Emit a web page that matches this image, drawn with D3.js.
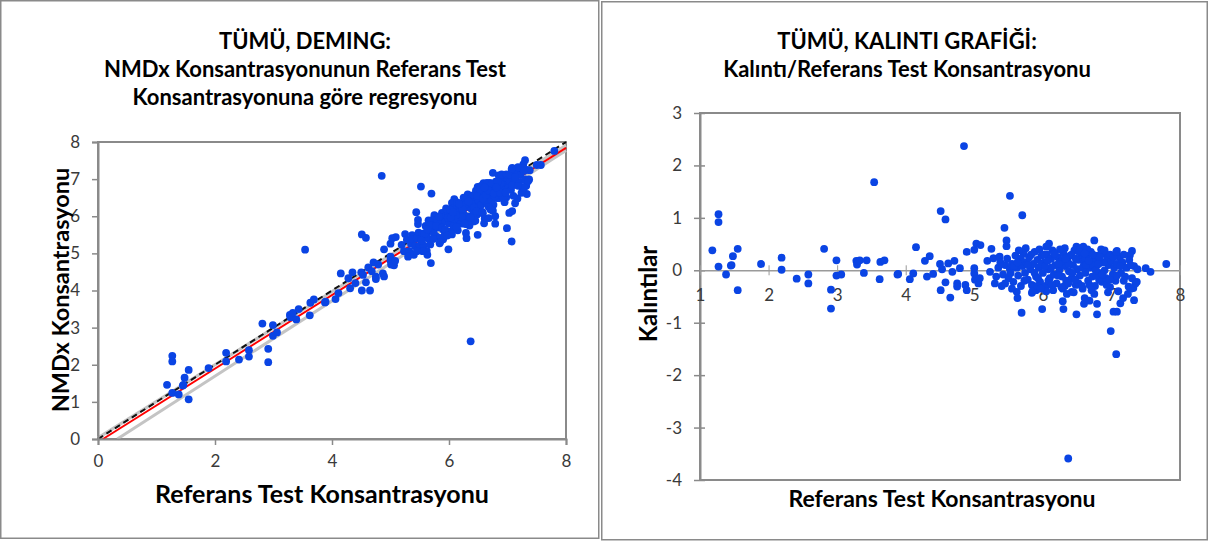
<!DOCTYPE html>
<html>
<head>
<meta charset="utf-8">
<script src="https://cdn.jsdelivr.net/npm/d3@7"></script>
<style>
  html, body { margin: 0; padding: 0; background: #ffffff; }
  svg { display: block; }
  text { font-family: Lato, "Open Sans", "Noto Sans", sans-serif; }
</style>
</head>
<body>
<svg id="chart" width="1209" height="542"></svg>
<script>
// ---------------- DATA ----------------
// Reference test concentration (x, shared by both panels)
const refConc = [
  1.18,1.27,1.27,1.27,1.38,1.45,1.46,1.48,1.55,1.55,1.89,2.19,2.19,2.41,2.58,2.58,2.81,2.91,2.91,2.99,
  2.99,3.06,3.28,3.29,3.33,3.43,3.39,3.54,3.62,3.63,3.69,3.88,3.89,4.06,4.11,4.15,4.28,4.35,4.31,4.40,
  4.51,4.58,4.50,4.53,4.62,4.71,4.68,4.79,4.89,5.00,5.03,5.09,5.25,4.58,4.51,4.65,4.75,4.75,4.87,4.89,
  5.00,5.00,5.01,5.06,5.08,5.19,5.28,5.37,5.23,5.32,5.30,5.40,5.62,5.63,4.85,5.52,5.70,5.44,5.47,5.47,
  5.69,5.99,6.29,6.29,6.30,6.42,6.49,6.61,6.60,6.68,6.79,6.79,7.03,7.08,6.99,7.07,6.37,7.13,7.17,7.33,
  7.25,7.32,7.37,5.84,5.90,6.75,7.30,7.27,7.80,7.50,7.57,7.08,7.08,6.09,6.05,6.32,6.49,6.59,5.75,
  5.35,5.38,5.42,5.45,5.48,5.50,5.52,5.55,5.57,5.60,5.62,5.64,5.66,5.68,5.70,5.72,5.74,5.76,5.78,5.80,
  5.82,5.84,5.86,5.88,5.90,5.92,5.94,5.96,5.98,6.00,6.02,6.04,6.06,6.08,6.10,6.12,6.14,6.16,6.18,6.20,
  6.22,6.24,6.26,6.28,6.30,6.32,6.34,6.36,6.38,6.40,6.42,6.44,6.46,6.48,6.50,6.52,6.54,6.56,6.58,6.60,
  6.62,6.64,6.66,6.68,6.70,6.72,6.74,6.76,6.78,6.80,6.82,6.84,6.86,6.88,6.90,6.92,6.94,6.96,6.98,7.00,
  7.02,7.04,7.06,7.08,7.10,7.12,7.14,7.16,7.20,7.22,7.24,7.26,7.30,7.33,7.35,7.38,
  6.25,6.55,6.85,6.15,6.45,6.75,6.95,5.95,6.05,6.35,6.65,6.90,7.18,7.28,5.55,5.45,5.65,5.85,
  6.62,6.72,6.82,6.52,6.42,6.32,6.22,6.12,6.02,5.92,
  5.58,5.68,5.78,5.88,5.98,6.08,6.18,6.28,6.38,6.48,6.58,6.68,6.78,6.88,6.98,7.08,7.18,7.28,
  6.13,6.23,6.33,6.43,6.53,6.63,6.73,6.83,6.93,7.03,7.13,6.03,5.93,5.83,5.73,5.63,5.53,
  6.47,6.57,6.67,6.77,6.87,6.97,7.07,6.37,6.27,6.17,6.07,5.97,6.61,6.71,6.81
];

// NMDx concentration (left panel y)
const nmdxConc = [
  1.46,2.24,2.09,1.24,1.20,1.44,1.46,1.65,1.86,1.07,1.91,2.32,2.09,2.14,2.39,2.22,3.11,2.43,2.07,3.07,
  2.78,2.87,3.34,3.28,3.40,3.50,3.22,5.10,3.33,3.67,3.76,3.68,3.70,3.77,3.93,4.46,4.33,4.49,4.06,4.20,
  5.51,5.42,4.49,4.42,4.62,4.76,4.52,4.70,5.11,5.26,5.41,5.44,5.52,4.22,4.00,4.00,4.37,4.31,4.46,4.38,
  4.91,4.81,4.70,4.68,4.80,5.23,5.37,5.49,5.06,5.06,4.91,4.96,5.07,4.96,7.09,6.80,6.61,6.11,5.90,5.79,
  4.74,5.11,5.79,5.55,5.41,5.86,5.50,5.93,5.81,5.95,6.00,5.80,6.09,6.14,5.68,5.32,2.63,6.35,6.48,6.60,
  6.78,6.82,6.99,5.27,5.38,7.17,7.51,7.40,7.76,7.38,7.38,7.30,7.22,6.46,6.36,6.59,6.79,6.89,6.03,
  5.26,5.39,5.20,5.41,5.56,5.21,5.40,5.53,5.21,5.74,5.53,5.40,5.70,5.24,5.64,5.90,5.55,5.77,5.46,5.91,
  5.70,5.42,5.84,6.09,5.64,5.98,5.85,5.60,6.12,5.81,6.03,5.60,6.22,5.96,5.81,6.20,6.37,5.93,6.13,5.80,
  6.32,6.09,6.26,6.01,6.47,6.25,5.99,6.39,6.21,6.53,6.12,6.39,6.69,6.05,6.37,6.57,6.29,6.71,6.08,6.57,
  6.42,6.74,6.31,6.58,6.90,6.45,6.77,6.31,6.71,6.93,6.62,6.84,6.49,7.05,6.75,6.62,7.01,6.91,6.51,7.03,
  6.79,6.94,6.71,7.05,6.55,7.21,6.93,7.15,6.92,7.11,6.63,7.30,6.99,7.25,6.94,7.24,
  6.50,6.82,7.10,5.62,5.88,6.15,6.38,6.21,5.51,5.75,6.90,7.13,7.32,6.77,5.06,5.06,5.89,5.31,
  6.69,6.67,6.49,6.12,6.57,5.87,5.97,6.03,6.18,5.48,
  5.52,5.76,5.74,5.69,5.96,5.74,6.31,6.31,6.35,6.55,6.48,6.25,6.53,6.88,7.13,6.83,6.82,7.22,
  5.71,6.20,6.40,6.23,6.73,6.58,6.88,6.93,6.50,7.13,7.06,5.97,5.64,5.99,5.39,5.64,5.34,
  6.14,6.12,6.70,6.62,6.64,6.64,7.27,5.97,5.80,6.34,6.11,5.48,6.78,6.18,6.78
];

// Residuals (right panel y)
const residuals = [
  0.38,1.07,0.92,0.07,-0.08,0.09,0.10,0.27,0.41,-0.38,0.12,0.24,0.01,-0.16,-0.08,-0.25,0.41,-0.37,-0.73,0.19,
  -0.10,-0.08,0.18,0.11,0.19,0.19,-0.05,1.68,-0.17,0.16,0.19,-0.08,-0.07,-0.17,-0.06,0.44,0.18,0.27,-0.12,-0.07,
  1.13,0.97,0.12,0.02,0.13,0.18,-0.03,0.04,0.35,0.39,0.51,0.48,0.41,-0.23,-0.38,-0.52,-0.25,-0.31,-0.28,-0.38,
  0.04,-0.06,-0.18,-0.25,-0.15,0.18,0.23,0.26,-0.03,-0.12,-0.25,-0.30,-0.41,-0.53,2.37,1.42,1.05,0.81,0.57,0.46,
  -0.81,-0.74,-0.35,-0.59,-0.74,-0.41,-0.84,-0.53,-0.64,-0.58,-0.64,-0.84,-0.79,-0.79,-1.16,-1.60,-3.59,-0.63,-0.53,-0.57,
  -0.31,-0.34,-0.22,-0.43,-0.38,0.57,0.37,0.29,0.12,0.04,-0.03,0.37,0.29,0.51,0.45,0.42,0.45,0.45,0.42,
  0.05,0.15,-0.08,0.10,0.22,-0.15,0.02,0.12,-0.22,0.28,0.05,-0.10,0.18,-0.30,0.08,0.32,-0.05,0.15,-0.18,0.25,
  0.02,-0.28,0.12,0.35,-0.12,0.20,0.05,-0.22,0.28,-0.05,0.15,-0.30,0.30,0.02,-0.15,0.22,0.38,-0.08,0.10,-0.25,
  0.25,0.00,0.15,-0.12,0.32,0.08,-0.20,0.18,-0.02,0.28,-0.15,0.10,0.38,-0.28,0.02,0.20,-0.10,0.30,-0.35,0.12,
  -0.05,0.25,-0.20,0.05,0.35,-0.12,0.18,-0.30,0.08,0.28,-0.05,0.15,-0.22,0.32,0.00,-0.15,0.22,0.10,-0.32,0.18,
  -0.08,0.05,-0.20,0.12,-0.40,0.25,-0.05,0.15,-0.12,0.05,-0.45,0.20,-0.15,0.08,-0.25,0.02,
  0.40,0.42,0.40,-0.38,-0.42,-0.45,-0.42,0.40,-0.40,-0.45,0.40,0.38,0.30,-0.35,-0.35,-0.25,0.38,-0.40,
  0.22,0.10,-0.18,-0.25,0.30,-0.30,-0.10,0.05,0.30,-0.30,
  0.08,0.22,0.10,-0.05,0.12,-0.20,0.28,0.18,0.12,0.22,0.05,-0.28,-0.10,0.15,0.30,-0.10,-0.20,0.10,
  -0.28,0.12,0.22,-0.05,0.35,0.10,0.30,0.25,-0.28,0.25,0.08,0.08,-0.15,0.30,-0.20,0.15,-0.05,
  -0.18,-0.30,0.18,0.00,-0.08,-0.18,0.35,-0.25,-0.32,0.32,0.18,-0.35,0.32,-0.38,0.12
];

// Reference lines on the Deming panel: [x, y] endpoints
const identityLine = [[0, 0], [8, 8]];
const demingLine   = [[0.085, 0], [8, 7.84]];
const ciUpperLine  = [[0, 0.03], [8, 7.91]];
const ciLowerLine  = [[0.33, 0], [8, 7.77]];

// Tick values
const leftXTicks  = [0, 2, 4, 6, 8];
const leftYTicks  = [0, 1, 2, 3, 4, 5, 6, 7, 8];
const rightXTicks = [1, 2, 3, 4, 5, 6, 7, 8];
const rightYTicks = [3, 2, 1, 0, -1, -2, -3, -4];

// Texts
const leftTitle  = ["TÜMÜ, DEMING:", "NMDx Konsantrasyonunun Referans Test", "Konsantrasyonuna göre regresyonu"];
const rightTitle = ["TÜMÜ, KALINTI GRAFİĞİ:", "Kalıntı/Referans Test Konsantrasyonu"];
const xAxisTitle = "Referans Test Konsantrasyonu";
const leftYTitle = "NMDx Konsantrasyonu";
const rightYTitle = "Kalıntılar";

// ---------------- DRAW ----------------
const svg = d3.select("#chart");
const frameColor = "#8a8a8a";
const tickColor = "#3a3a3a";
const dotColor = "#0a44e4";
const intFmt = d => String(d).replace("\u2212", "-");

// Panel borders
svg.append("rect").attr("x", 0.75).attr("y", 0.75).attr("width", 598).attr("height", 537.5)
  .attr("fill", "none").attr("stroke", frameColor).attr("stroke-width", 1.5);
svg.append("rect").attr("x", 601.75).attr("y", 1.75).attr("width", 605.5).attr("height", 538)
  .attr("fill", "none").attr("stroke", frameColor).attr("stroke-width", 1.5);

function titleBlock(lines, cx, y0, dy, size) {
  lines.forEach((t, i) => {
    svg.append("text").attr("x", cx).attr("y", y0 + i * dy)
      .attr("text-anchor", "middle").attr("font-size", size).attr("font-weight", 700)
      .attr("fill", "#000").text(t);
  });
}

// ===== LEFT PANEL =====
const lx = d3.scaleLinear().domain([0, 8]).range([98, 566]);
const ly = d3.scaleLinear().domain([0, 8]).range([439, 142]);

titleBlock(leftTitle, 305, 49, 28, 22);

svg.append("rect").attr("x", lx(0)).attr("y", ly(8)).attr("width", lx(8) - lx(0)).attr("height", ly(0) - ly(8))
  .attr("fill", "#fff").attr("stroke", frameColor).attr("stroke-width", 2);

const lineGen = d3.line().x(d => lx(d[0])).y(d => ly(d[1]));
const gL = svg.append("g");
gL.append("path").datum(ciUpperLine).attr("d", lineGen).attr("stroke", "#c4c4c4").attr("stroke-width", 3).attr("fill", "none");
gL.append("path").datum(ciLowerLine).attr("d", lineGen).attr("stroke", "#c4c4c4").attr("stroke-width", 3).attr("fill", "none");
gL.append("path").datum(identityLine).attr("d", lineGen).attr("stroke", "#111").attr("stroke-width", 2)
  .attr("stroke-dasharray", "6,4").attr("fill", "none");
gL.append("path").datum(demingLine).attr("d", lineGen).attr("stroke", "#ff0000").attr("stroke-width", 2).attr("fill", "none");

gL.selectAll("circle.pt").data(refConc.map((x, i) => [x, nmdxConc[i]])).join("circle")
  .attr("class", "pt").attr("cx", d => lx(d[0])).attr("cy", d => ly(d[1])).attr("r", 3.9).attr("fill", dotColor);

const lxAxis = svg.append("g").attr("transform", `translate(0,${ly(0)})`)
  .call(d3.axisBottom(lx).tickValues(leftXTicks).tickSize(6).tickPadding(10).tickFormat(intFmt));
const lyAxis = svg.append("g").attr("transform", `translate(${lx(0)},0)`)
  .call(d3.axisLeft(ly).tickValues(leftYTicks).tickSize(6).tickPadding(12).tickFormat(intFmt));
[lxAxis, lyAxis].forEach(a => {
  a.select(".domain").attr("stroke", frameColor).attr("stroke-width", 2);
  a.selectAll(".tick line").attr("stroke", frameColor).attr("stroke-width", 1.5);
  a.selectAll(".tick text").attr("font-size", 17).attr("fill", tickColor)
    .attr("font-family", "Lato, 'Open Sans', sans-serif");
});

svg.append("text").attr("x", 322).attr("y", 503).attr("text-anchor", "middle")
  .attr("font-size", 25).attr("font-weight", 700).text(xAxisTitle);
svg.append("text").attr("transform", `translate(69,290) rotate(-90)`).attr("text-anchor", "middle")
  .attr("font-size", 23.5).attr("font-weight", 700).text(leftYTitle);

// ===== RIGHT PANEL =====
const rx = d3.scaleLinear().domain([1, 8]).range([700, 1180]);
const ry = d3.scaleLinear().domain([-4, 3]).range([480, 113]);

titleBlock(rightTitle, 907, 49, 28, 22);

svg.append("rect").attr("x", rx(1)).attr("y", ry(3)).attr("width", rx(8) - rx(1)).attr("height", ry(-4) - ry(3))
  .attr("fill", "#fff").attr("stroke", frameColor).attr("stroke-width", 2);

const ryAxis = svg.append("g").attr("transform", `translate(${rx(1)},0)`)
  .call(d3.axisLeft(ry).tickValues(rightYTicks).tickSize(0).tickPadding(18).tickFormat(intFmt));
ryAxis.select(".domain").attr("stroke", frameColor).attr("stroke-width", 2);
ryAxis.selectAll(".tick text").attr("font-size", 17).attr("fill", tickColor);
ryAxis.selectAll(".tick").append("line").attr("x1", -6).attr("x2", 5).attr("stroke", frameColor).attr("stroke-width", 1.5);

const rxAxis = svg.append("g").attr("transform", `translate(0,${ry(0)})`)
  .call(d3.axisBottom(rx).tickValues(rightXTicks).tickSize(0).tickPadding(19).tickFormat(intFmt));
rxAxis.select(".domain").attr("stroke", "#9a9a9a").attr("stroke-width", 1.5);
rxAxis.selectAll(".tick text").attr("font-size", 17).attr("fill", tickColor);
rxAxis.selectAll(".tick").append("line").attr("y1", -5).attr("y2", 5).attr("stroke", "#9a9a9a").attr("stroke-width", 1);

svg.append("g").selectAll("circle").data(refConc.map((x, i) => [x, residuals[i]])).join("circle")
  .attr("cx", d => rx(d[0])).attr("cy", d => ry(d[1])).attr("r", 3.9).attr("fill", dotColor);

svg.append("text").attr("x", 942).attr("y", 507).attr("text-anchor", "middle")
  .attr("font-size", 23).attr("font-weight", 700).text(xAxisTitle);
svg.append("text").attr("transform", `translate(657,294) rotate(-90)`).attr("text-anchor", "middle")
  .attr("font-size", 24).attr("font-weight", 700).text(rightYTitle);
</script>
</body>
</html>
